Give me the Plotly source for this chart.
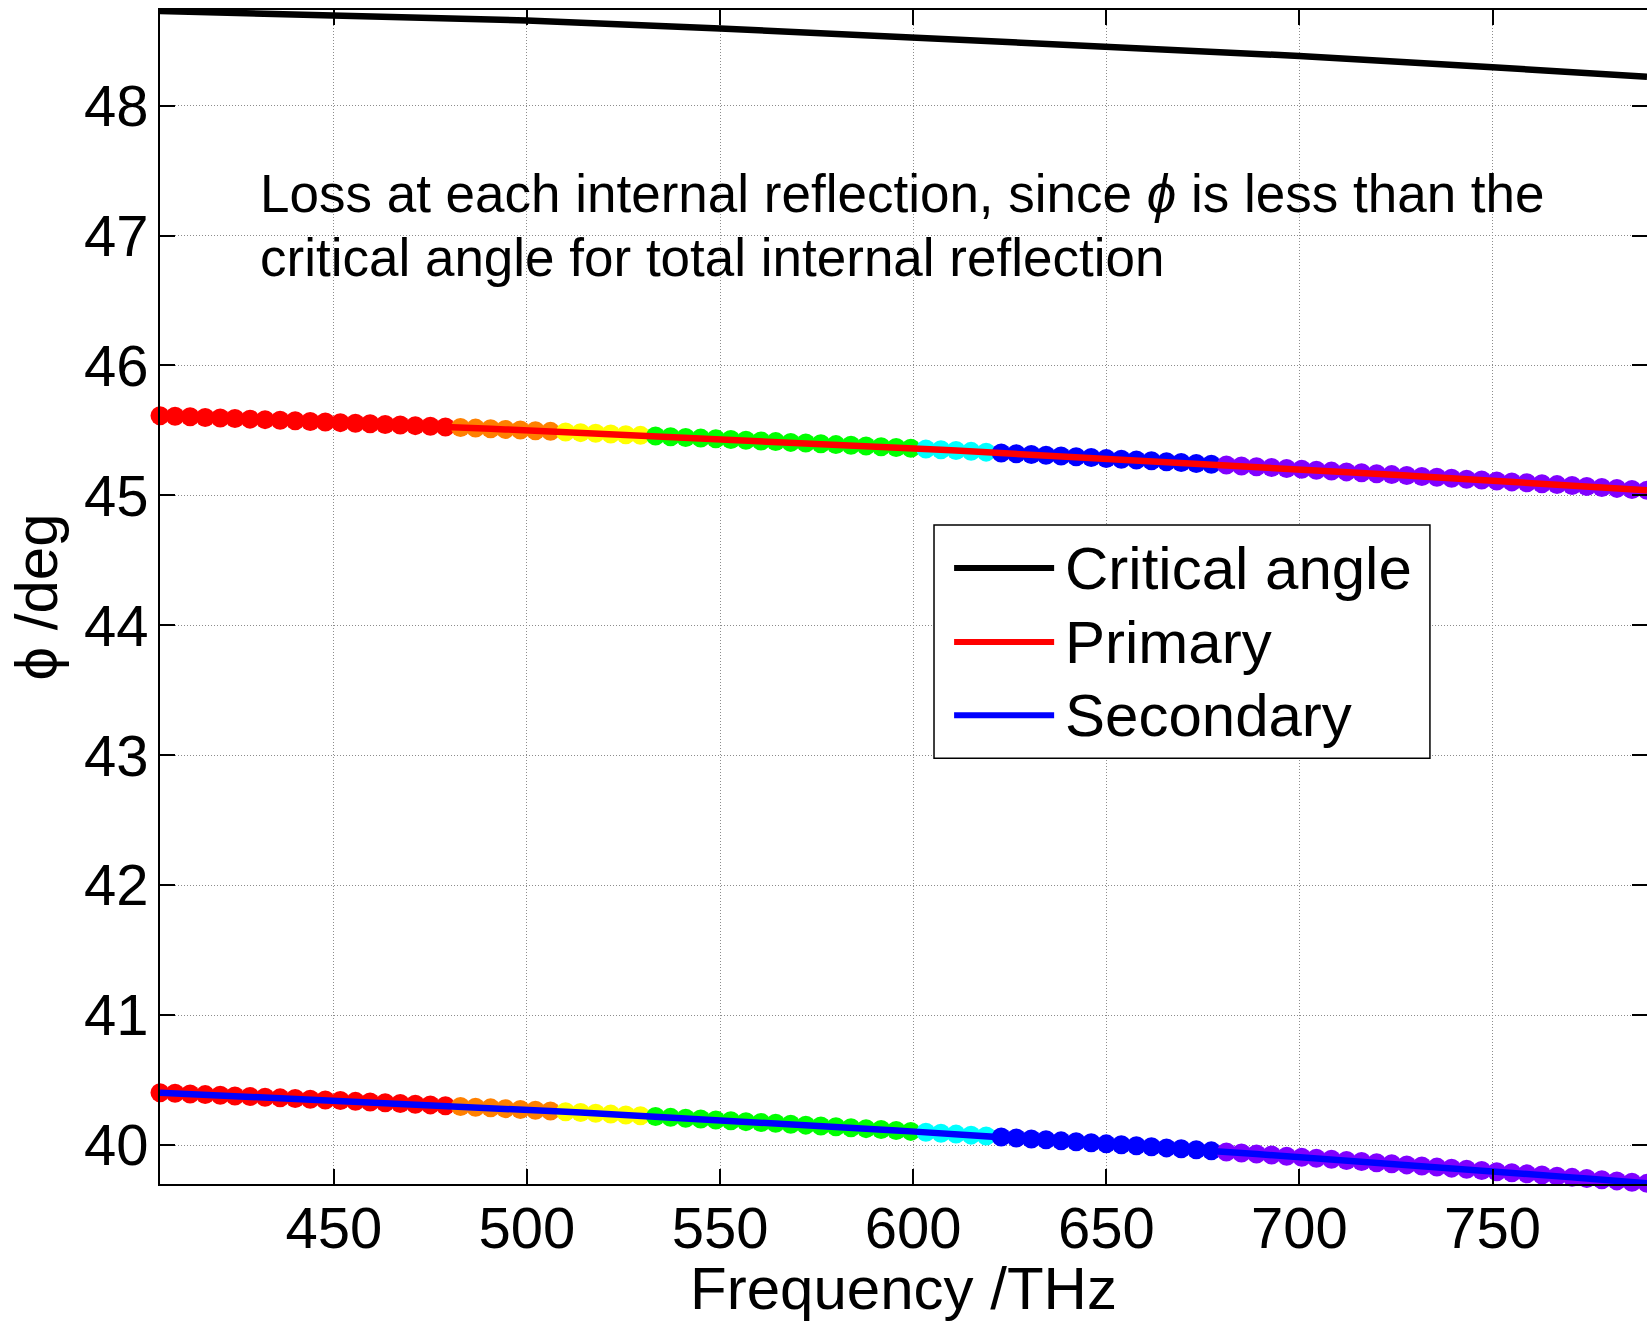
import plotly.graph_objects as go

# ---------------- data ----------------
freq_thz = [
    405.0, 408.9, 412.8, 416.7, 420.6, 424.4, 428.3, 432.2, 436.1, 440.0,
    443.9, 447.8, 451.7, 455.6, 459.4, 463.3, 467.2, 471.1, 475.0, 478.9,
    482.8, 486.7, 490.6, 494.4, 498.3, 502.2, 506.1, 510.0, 513.9, 517.8,
    521.7, 525.6, 529.4, 533.3, 537.2, 541.1, 545.0, 548.9, 552.8, 556.7,
    560.6, 564.4, 568.3, 572.2, 576.1, 580.0, 583.9, 587.8, 591.7, 595.6,
    599.4, 603.3, 607.2, 611.1, 615.0, 618.9, 622.8, 626.7, 630.6, 634.4,
    638.3, 642.2, 646.1, 650.0, 653.9, 657.8, 661.7, 665.6, 669.4, 673.3,
    677.2, 681.1, 685.0, 688.9, 692.8, 696.7, 700.6, 704.4, 708.3, 712.2,
    716.1, 720.0, 723.9, 727.8, 731.7, 735.6, 739.4, 743.3, 747.2, 751.1,
    755.0, 758.9, 762.8, 766.7, 770.6, 774.4, 778.3, 782.2, 786.1, 790.0,
]

primary_deg = [
    45.613, 45.609, 45.605, 45.600, 45.596, 45.592, 45.587, 45.583, 45.578, 45.574,
    45.569, 45.565, 45.560, 45.556, 45.551, 45.546, 45.542, 45.537, 45.532, 45.527,
    45.523, 45.518, 45.513, 45.508, 45.503, 45.498, 45.493, 45.488, 45.483, 45.478,
    45.473, 45.467, 45.462, 45.457, 45.452, 45.446, 45.441, 45.436, 45.430, 45.425,
    45.419, 45.414, 45.408, 45.403, 45.397, 45.391, 45.386, 45.380, 45.374, 45.369,
    45.363, 45.357, 45.351, 45.345, 45.339, 45.333, 45.327, 45.321, 45.315, 45.309,
    45.303, 45.297, 45.291, 45.284, 45.278, 45.272, 45.266, 45.259, 45.253, 45.246,
    45.240, 45.234, 45.227, 45.220, 45.214, 45.207, 45.201, 45.194, 45.187, 45.181,
    45.174, 45.167, 45.160, 45.153, 45.146, 45.139, 45.132, 45.125, 45.118, 45.111,
    45.104, 45.097, 45.090, 45.083, 45.076, 45.068, 45.061, 45.054, 45.046, 45.039,
]

secondary_deg = [
    40.403, 40.398, 40.393, 40.388, 40.383, 40.378, 40.373, 40.368, 40.363, 40.358,
    40.352, 40.347, 40.342, 40.336, 40.331, 40.325, 40.320, 40.314, 40.309, 40.303,
    40.297, 40.291, 40.286, 40.280, 40.274, 40.268, 40.262, 40.256, 40.250, 40.244,
    40.238, 40.231, 40.225, 40.219, 40.213, 40.206, 40.200, 40.193, 40.187, 40.180,
    40.174, 40.167, 40.160, 40.153, 40.147, 40.140, 40.133, 40.126, 40.119, 40.112,
    40.105, 40.098, 40.091, 40.084, 40.076, 40.069, 40.062, 40.054, 40.047, 40.040,
    40.032, 40.025, 40.017, 40.009, 40.002, 39.994, 39.986, 39.978, 39.971, 39.963,
    39.955, 39.947, 39.939, 39.931, 39.923, 39.914, 39.906, 39.898, 39.890, 39.881,
    39.873, 39.864, 39.856, 39.847, 39.839, 39.830, 39.822, 39.813, 39.804, 39.795,
    39.787, 39.778, 39.769, 39.760, 39.751, 39.742, 39.733, 39.724, 39.714, 39.705,
]

crit_freq_thz = [405, 450, 500, 550, 600, 650, 700, 750, 790]
crit_deg = [48.728, 48.694, 48.655, 48.594, 48.527, 48.458, 48.382, 48.295, 48.222]

# spectral colour bands (upper frequency edges of red, orange, yellow, green, cyan, blue)
band_edges_thz = [480, 508, 531, 601, 621, 679]
band_colors = ["#FF0000", "#FF8000", "#FFFF00", "#00FF00", "#00FFFF", "#0000FF", "#8000FF"]

x_ticks = [450, 500, 550, 600, 650, 700, 750]
y_ticks = [40, 41, 42, 43, 44, 45, 46, 47, 48]

legend_names = ["Critical angle", "Primary", "Secondary"]
legend_colors = ["#000000", "#FF0000", "#0000FF"]

annotation_lines = ["Loss at each internal reflection, since <i>ϕ</i> is less than the",
                    "critical angle for total internal reflection"]


def band_color(f):
    k = sum(1 for e in band_edges_thz if f > e)
    return band_colors[k]


marker_colors = [band_color(f) for f in freq_thz]

FONT = "Liberation Sans, Arial, sans-serif"

fig = go.Figure()

for ys in (primary_deg, secondary_deg):
    fig.add_trace(go.Scatter(
        x=freq_thz, y=ys, mode="markers",
        marker=dict(size=19, color=marker_colors, line=dict(width=0)),
        cliponaxis=False, showlegend=False, hoverinfo="skip"))

fig.add_trace(go.Scatter(x=freq_thz, y=primary_deg, mode="lines",
                         line=dict(color="#FF0000", width=6.5), name="Primary", showlegend=False))
fig.add_trace(go.Scatter(x=freq_thz, y=secondary_deg, mode="lines",
                         line=dict(color="#0000FF", width=6.5), name="Secondary", showlegend=False))
fig.add_trace(go.Scatter(x=crit_freq_thz, y=crit_deg, mode="lines",
                         line=dict(color="#000000", width=6.5), name="Critical angle", showlegend=False))

axis_common = dict(
    showline=True, linecolor="black", linewidth=2, mirror="ticks",
    ticks="inside", ticklen=15, tickwidth=2, tickcolor="black",
    showgrid=True, gridcolor="#8c8c8c", gridwidth=1, griddash="1px,2px",
    zeroline=False, tickfont=dict(family=FONT, size=58, color="black"),
)

fig.update_xaxes(range=[405, 790], tickvals=x_ticks, ticklabelstandoff=-8,
                 title=dict(text="Frequency /THz", font=dict(family=FONT, size=60, color="black"),
                            standoff=33),
                 **axis_common)
fig.update_yaxes(range=[39.70, 48.736], tickvals=y_ticks, ticklabelstandoff=-2,
                 title=dict(text="ϕ /deg", font=dict(family=FONT, size=60, color="black"),
                            standoff=7),
                 **axis_common)

# manual legend box (drawn in data coordinates)
shapes = [dict(type="rect", xref="x", yref="y", x0=605.4, x1=733.8, y0=42.977, y1=44.772,
               fillcolor="white", line=dict(color="black", width=1.5), layer="above")]
legend_rows_y = [44.441, 43.871, 43.308]
annotations = []
for name, col, yy in zip(legend_names, legend_colors, legend_rows_y):
    shapes.append(dict(type="line", xref="x", yref="y", x0=610.6, x1=636.5, y0=yy, y1=yy,
                       line=dict(color=col, width=6), layer="above"))
    annotations.append(dict(x=638.8, y=yy, xref="x", yref="y", text=name, showarrow=False,
                            xanchor="left", yanchor="middle",
                            font=dict(family=FONT, size=60, color="black")))

for txt, yy in zip(annotation_lines, [47.320, 46.834]):
    annotations.append(dict(x=430.5, y=yy, xref="x", yref="y", text=txt,
                            showarrow=False, xanchor="left", yanchor="middle", align="left",
                            font=dict(family=FONT, size=53, color="black")))

fig.update_layout(
    width=1647, height=1322,
    margin=dict(l=160, r=0, t=10, b=138, autoexpand=False),
    plot_bgcolor="white", paper_bgcolor="white",
    shapes=shapes, annotations=annotations,
    showlegend=False,
    font=dict(family=FONT, color="black"),
)

fig.write_html("out.html")
